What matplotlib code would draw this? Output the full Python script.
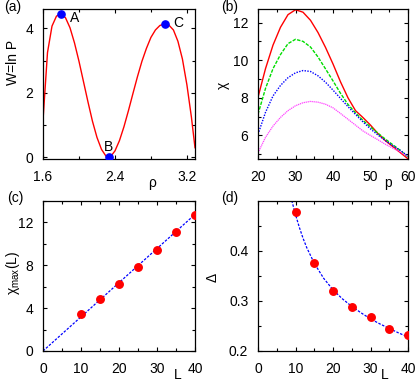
import numpy as np
import matplotlib
matplotlib.use("Agg")
import matplotlib.pyplot as plt
from matplotlib.ticker import MultipleLocator

plt.rcParams["font.family"] = ["Liberation Sans", "DejaVu Sans"]
plt.rcParams["font.size"] = 10
plt.rcParams["mathtext.fontset"] = "custom"
plt.rcParams["mathtext.rm"] = "Liberation Sans"
plt.rcParams["mathtext.it"] = "Liberation Sans:italic"

# (a) W = ln P versus rho
rho = [1.600, 1.625, 1.65, 1.70, 1.75, 1.80, 1.85, 1.90, 1.95, 2.00, 2.05, 2.10,
       2.15, 2.20, 2.25, 2.30, 2.33, 2.35, 2.40, 2.45, 2.50, 2.55, 2.60, 2.65,
       2.70, 2.75, 2.80, 2.85, 2.90, 2.96, 3.00, 3.05, 3.10, 3.15, 3.20, 3.25, 3.29]
W = [1.15, 2.2, 3.25, 4.07, 4.38, 4.45, 4.33, 4.02, 3.55, 2.98, 2.35, 1.72,
     1.12, 0.62, 0.25, 0.04, 0.0, 0.02, 0.2, 0.52, 0.95, 1.45, 1.98, 2.5,
     2.98, 3.38, 3.72, 3.95, 4.09, 4.14, 4.1, 3.95, 3.6, 3.05, 2.25, 1.25, 0.3]
pt_names = ["A", "B", "C"]
pt_rho = [1.80, 2.33, 2.96]
pt_W = [4.45, 0.0, 4.13]

# (b) chi versus p for L = 40, 35, 30, 25
p = [20, 22, 24, 26, 28, 30, 32, 34, 36, 38, 40, 42, 44, 46, 48, 50, 52, 54, 56, 58, 60]
chi_40 = [8.03, 9.55, 10.8, 11.75, 12.42, 12.68, 12.55, 12.12, 11.47, 10.68, 9.8,
          8.85, 8.0, 7.32, 6.95, 6.55, 6.1, 5.72, 5.4, 5.08, 4.76]
chi_35 = [7.13, 8.5, 9.55, 10.3, 10.88, 11.11, 11.0, 10.7, 10.17, 9.54, 8.9,
          8.24, 7.65, 7.2, 6.8, 6.45, 6.12, 5.8, 5.5, 5.2, 4.85]
chi_30 = [6.06, 7.23, 8.1, 8.66, 9.07, 9.33, 9.45, 9.4, 9.17, 8.83, 8.41,
          7.97, 7.53, 7.12, 6.72, 6.35, 6.02, 5.72, 5.45, 5.2, 4.9]
chi_25 = [5.08, 5.9, 6.5, 6.96, 7.32, 7.58, 7.74, 7.81, 7.77, 7.66, 7.47,
          7.17, 6.86, 6.55, 6.24, 6.0, 5.77, 5.53, 5.32, 5.12, 4.86]

# (c) chi_max(L) and linear fit
L = [10, 15, 20, 25, 30, 35, 40]
chi_max = [3.46, 4.86, 6.26, 7.82, 9.47, 11.09, 12.71]
fit_c_L = [0, 40]
fit_c_chi = [0.0, 12.75]

# (d) Delta(L) and fit
delta = [0.477, 0.375, 0.32, 0.287, 0.267, 0.243, 0.232]
fit_d_L = [9, 10, 11, 12, 13, 15, 17.5, 20, 22.5, 25, 27.5, 30, 32.5, 35, 37.5, 40]
fit_d_delta = [0.5, 0.472, 0.447, 0.425, 0.406, 0.375, 0.345, 0.322, 0.304, 0.289,
               0.276, 0.264, 0.254, 0.245, 0.236, 0.228]

W_px, H_px = 415, 381
fig = plt.figure(figsize=(W_px / 100, H_px / 100), dpi=100)


def box(l, t, r, b):
    return [l / W_px, 1 - b / H_px, (r - l) / W_px, (b - t) / H_px]


axa = fig.add_axes(box(43, 9, 195, 159))
axb = fig.add_axes(box(258, 9, 408, 159))
axc = fig.add_axes(box(43, 201, 195, 351))
axd = fig.add_axes(box(258, 201, 408, 351))

for ax in [axa, axb, axc, axd]:
    ax.tick_params(which="both", direction="in", top=True, right=True, width=0.8)
    ax.tick_params(which="major", length=3)
    ax.tick_params(which="minor", length=2.5)
    ax.tick_params(axis="x", pad=8)
    ax.tick_params(axis="y", pad=7)
    for s in ax.spines.values():
        s.set_linewidth(0.9)

# (a)
axa.plot(rho, W, color="red", lw=1.0)
axa.plot(pt_rho, pt_W, "o", color="blue", ms=5.2, zorder=3)
offsets = {"A": (10, -3), "B": (0, 7.5), "C": (9, 0.5)}
for name, x, y in zip(pt_names, pt_rho, pt_W):
    dx, dy = offsets[name]
    axa.annotate(name, (x, y), xytext=(dx, dy), textcoords="offset points",
                 ha="center", va="center")
axa.set_xlim(1.6, 3.29)
axa.set_ylim(-0.05, 4.6)
axa.xaxis.set_major_locator(MultipleLocator(0.8))
axa.xaxis.set_minor_locator(MultipleLocator(0.4))
axa.yaxis.set_major_locator(MultipleLocator(2))
axa.yaxis.set_minor_locator(MultipleLocator(1))
axa.set_xlabel("ρ")
axa.xaxis.set_label_coords(0.717, -0.115)
axa.set_ylabel("W=ln P", va="center")
axa.yaxis.set_label_coords(-0.2, 0.647)

# (b)
axb.plot(p, chi_40, color="red", lw=1.0)
axb.plot(p, chi_35, color="#00dd00", lw=1.0, ls=(0, (2.5, 1)))
axb.plot(p, chi_30, color="blue", lw=1.0, ls=(0, (1, 1)))
axb.plot(p, chi_25, color="#ff44ff", lw=0.9, ls=(0, (1, 0.6)))
axb.set_xlim(20, 60)
axb.set_ylim(4.75, 12.72)
axb.xaxis.set_major_locator(MultipleLocator(10))
axb.xaxis.set_minor_locator(MultipleLocator(5))
axb.yaxis.set_major_locator(MultipleLocator(2))
axb.yaxis.set_minor_locator(MultipleLocator(1))
axb.set_xlabel("p")
axb.xaxis.set_label_coords(0.867, -0.115)
axb.set_ylabel("χ", va="center")
axb.yaxis.set_label_coords(-0.233, 0.49)

# (c)
axc.plot(fit_c_L, fit_c_chi, color="blue", lw=0.9, ls=(0, (2, 1.2)))
axc.plot(L, chi_max, "o", color="red", ms=5.4, zorder=3)
axc.set_xlim(0, 40)
axc.set_ylim(0, 14)
axc.xaxis.set_major_locator(MultipleLocator(10))
axc.xaxis.set_minor_locator(MultipleLocator(5))
axc.yaxis.set_major_locator(MultipleLocator(4))
axc.yaxis.set_minor_locator(MultipleLocator(2))
axc.set_xlabel("L")
axc.xaxis.set_label_coords(0.888, -0.115)
axc.set_ylabel(r"χ$_{\rm max}$(L)", va="center")
axc.yaxis.set_label_coords(-0.2, 0.52)

# (d)
axd.plot(fit_d_L, fit_d_delta, color="blue", lw=0.9, ls=(0, (2, 1.2)))
axd.plot(L, delta, "o", color="red", ms=5.4, zorder=3)
axd.set_xlim(0, 40)
axd.set_ylim(0.2, 0.499)
axd.xaxis.set_major_locator(MultipleLocator(10))
axd.xaxis.set_minor_locator(MultipleLocator(5))
axd.yaxis.set_major_locator(MultipleLocator(0.1))
axd.yaxis.set_minor_locator(MultipleLocator(0.05))
axd.set_xlabel("L")
axd.xaxis.set_label_coords(0.847, -0.115)
axd.set_ylabel("Δ", va="center")
axd.yaxis.set_label_coords(-0.3, 0.49)

for lab, x, y in [("(a)", 13, 7), ("(b)", 230, 7), ("(c)", 15, 198), ("(d)", 230, 198)]:
    fig.text(x / W_px, 1 - y / H_px, lab, ha="center", va="center")

fig.savefig("out.png", dpi=100)
